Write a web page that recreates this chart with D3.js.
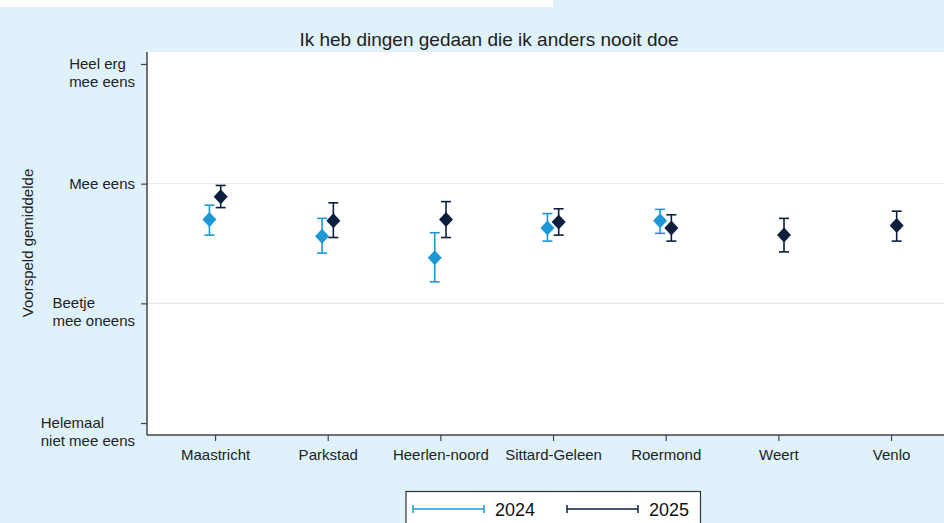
<!DOCTYPE html>
<html>
<head>
<meta charset="utf-8">
<script src="https://cdn.jsdelivr.net/npm/d3@7"></script>
<style>
  body { margin: 0; background: #dff2fb; }
  svg { display: block; font-family: "Liberation Sans", Arial, sans-serif; }
</style>
</head>
<body>
<div id="chart"></div>
<script>
const regions = ["Maastricht", "Parkstad", "Heerlen-noord", "Sittard-Geleen", "Roermond", "Weert", "Venlo"];

// 2024 (no data for Weert and Venlo)
const mean2024 = [2.70, 2.56, 2.38, 2.63, 2.69, null, null];
const lo2024   = [2.57, 2.42, 2.18, 2.52, 2.585, null, null];
const hi2024   = [2.82, 2.71, 2.59, 2.75, 2.785, null, null];

// 2025
const mean2025 = [2.89, 2.69, 2.70, 2.68, 2.63, 2.57, 2.65];
const lo2025   = [2.80, 2.55, 2.55, 2.57, 2.52, 2.43, 2.52];
const hi2025   = [2.985, 2.84, 2.85, 2.79, 2.74, 2.71, 2.77];

const yTicks = [1, 2, 3, 4];
const yLabels = [["Helemaal", "niet mee eens"], ["Beetje", "mee oneens"], ["Mee eens"], ["Heel erg", "mee eens"]];
const gridVals = [2, 3];
const years = ["2024", "2025"];
const colors = {"2024": "#1b98d5", "2025": "#0c1f3e"};

const width = 944, height = 523;
const plot_left = 147, plot_right = 944, plot_top = 52, plot_bottom = 435;
const offset = 0.05;

const svg = d3.select("#chart").append("svg")
    .attr("width", width)
    .attr("height", height);

// white strip at the top
svg.append("rect")
    .attr("x", 0).attr("y", 0)
    .attr("width", 553).attr("height", 7)
    .attr("fill", "#ffffff");

// plot region
svg.append("rect")
    .attr("x", plot_left).attr("y", plot_top)
    .attr("width", plot_right - plot_left).attr("height", plot_bottom - plot_top)
    .attr("fill", "#ffffff");

const x = d3.scaleLinear().domain([0.396, 7.47]).range([plot_left, plot_right]);
const y = d3.scaleLinear().domain([0.9, 4.1]).range([plot_bottom, plot_top]);

// title
svg.append("text")
    .attr("x", 489).attr("y", 46)
    .attr("text-anchor", "middle")
    .attr("font-size", 19)
    .attr("fill", "#222")
    .text("Ik heb dingen gedaan die ik anders nooit doe");

// gridlines
svg.selectAll(".grid")
    .data(gridVals)
    .enter()
    .append("line")
    .attr("x1", plot_left).attr("x2", plot_right)
    .attr("y1", d => y(d)).attr("y2", d => y(d))
    .attr("stroke", "#e6e6e6")
    .attr("stroke-width", 1);

// y axis
const yAxis = svg.append("g")
    .attr("transform", `translate(${plot_left},0)`)
    .call(d3.axisLeft(y).tickValues(yTicks).tickSize(6).tickFormat(""));
yAxis.select(".domain").attr("d", `M0,${plot_top}V${plot_bottom}`).attr("stroke", "#444").attr("stroke-width", 1.5);
yAxis.selectAll(".tick line").attr("stroke", "#444").attr("stroke-width", 1.2);

// labels as left-aligned blocks whose right edge sits at x=135
yTicks.forEach((v, i) => {
    const lines = yLabels[i];
    const t = svg.append("text")
        .attr("text-anchor", "start")
        .attr("font-size", 15)
        .attr("fill", "#222");
    const spans = lines.map((s, j) => t.append("tspan")
        .attr("y", y(v) + 5 + j * 18)
        .text(s));
    const w = d3.max(spans, s => s.node().getComputedTextLength());
    spans.forEach(s => s.attr("x", 135 - w));
});

// y axis title
svg.append("text")
    .attr("transform", `translate(33,243) rotate(-90)`)
    .attr("text-anchor", "middle")
    .attr("font-size", 15)
    .attr("fill", "#222")
    .text("Voorspeld gemiddelde");

// x axis
const xAxis = svg.append("g")
    .attr("transform", `translate(0,${plot_bottom})`)
    .call(d3.axisBottom(x).tickValues(d3.range(1, regions.length + 1)).tickSize(6)
        .tickFormat(d => regions[d - 1]));
xAxis.select(".domain").attr("d", `M${plot_left},0H${plot_right}`).attr("stroke", "#444").attr("stroke-width", 1.5);
xAxis.selectAll(".tick line").attr("stroke", "#444").attr("stroke-width", 1.2);
xAxis.selectAll(".tick text")
    .attr("font-size", 15)
    .attr("font-family", "'Liberation Sans', Arial, sans-serif")
    .attr("fill", "#222")
    .attr("y", 14);

// series
function drawSeries(means, los, his, color, dx) {
    const pts = means.map((m, i) => ({i: i + 1, m: m, lo: los[i], hi: his[i]}))
        .filter(d => d.m !== null);
    const g = svg.append("g");
    const cap = 5;
    g.selectAll(".bar").data(pts).enter().append("line")
        .attr("x1", d => x(d.i + dx)).attr("x2", d => x(d.i + dx))
        .attr("y1", d => y(d.lo)).attr("y2", d => y(d.hi))
        .attr("stroke", color).attr("stroke-width", 1.6);
    g.selectAll(".capTop").data(pts).enter().append("line")
        .attr("x1", d => x(d.i + dx) - cap).attr("x2", d => x(d.i + dx) + cap)
        .attr("y1", d => y(d.hi)).attr("y2", d => y(d.hi))
        .attr("stroke", color).attr("stroke-width", 1.6);
    g.selectAll(".capBot").data(pts).enter().append("line")
        .attr("x1", d => x(d.i + dx) - cap).attr("x2", d => x(d.i + dx) + cap)
        .attr("y1", d => y(d.lo)).attr("y2", d => y(d.lo))
        .attr("stroke", color).attr("stroke-width", 1.6);
    g.selectAll(".pt").data(pts).enter().append("path")
        .attr("transform", d => `translate(${x(d.i + dx)},${y(d.m)})`)
        .attr("d", "M0,-7.5L7,0L0,7.5L-7,0Z")
        .attr("fill", color);
}

drawSeries(mean2024, lo2024, hi2024, colors["2024"], -offset);
drawSeries(mean2025, lo2025, hi2025, colors["2025"], offset);

// legend
const legend = svg.append("g");
legend.append("rect")
    .attr("x", 406).attr("y", 491.5)
    .attr("width", 294.5).attr("height", 40)
    .attr("fill", "#ffffff")
    .attr("stroke", "#333").attr("stroke-width", 1.2);
const legX = [413, 567];
years.forEach((yr, i) => {
    const x0 = legX[i], x1 = legX[i] + 71, ly = 509;
    legend.append("line")
        .attr("x1", x0).attr("x2", x1).attr("y1", ly).attr("y2", ly)
        .attr("stroke", colors[yr]).attr("stroke-width", 1.5);
    [x0, x1].forEach(xx => {
        legend.append("line")
            .attr("x1", xx).attr("x2", xx).attr("y1", ly - 4).attr("y2", ly + 4)
            .attr("stroke", colors[yr]).attr("stroke-width", 1.5);
    });
    legend.append("text")
        .attr("x", x1 + 11).attr("y", ly + 7)
        .attr("font-size", 18)
        .attr("fill", "#111")
        .text(yr);
});
</script>
</body>
</html>
